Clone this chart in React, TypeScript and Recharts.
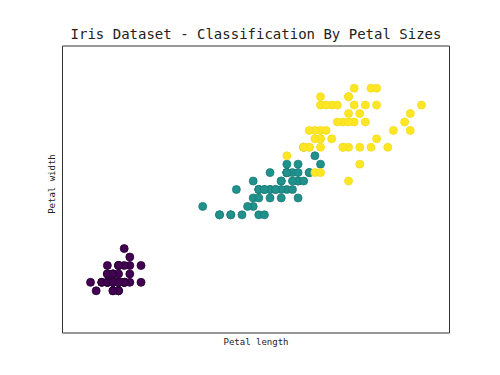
import React from "react";
import { ScatterChart, Scatter, XAxis, YAxis, ReferenceArea } from "recharts";

const setosaLength = [1.4,1.4,1.3,1.5,1.4,1.7,1.4,1.5,1.4,1.5,1.5,1.6,1.4,1.1,1.2,1.5,1.3,1.4,1.7,1.5,1.7,1.5,1.0,1.7,1.9,1.6,1.6,1.5,1.4,1.6,1.6,1.5,1.5,1.4,1.5,1.2,1.3,1.4,1.3,1.5,1.3,1.3,1.3,1.6,1.9,1.4,1.6,1.4,1.5,1.4];
const setosaWidth = [0.2,0.2,0.2,0.2,0.2,0.4,0.3,0.2,0.2,0.1,0.2,0.2,0.1,0.1,0.2,0.4,0.4,0.3,0.3,0.3,0.2,0.4,0.2,0.5,0.2,0.2,0.4,0.2,0.2,0.2,0.2,0.4,0.1,0.2,0.2,0.2,0.2,0.1,0.2,0.2,0.3,0.3,0.2,0.6,0.4,0.3,0.2,0.2,0.2,0.2];

const versicolorLength = [4.7,4.5,4.9,4.0,4.6,4.5,4.7,3.3,4.6,3.9,3.5,4.2,4.0,4.7,3.6,4.4,4.5,4.1,4.5,3.9,4.8,4.0,4.9,4.7,4.3,4.4,4.8,5.0,4.5,3.5,3.8,3.7,3.9,5.1,4.5,4.5,4.7,4.4,4.1,4.0,4.4,4.6,4.0,3.3,4.2,4.2,4.2,4.3,3.0,4.1];
const versicolorWidth = [1.4,1.5,1.5,1.3,1.5,1.3,1.6,1.0,1.3,1.4,1.0,1.5,1.0,1.4,1.3,1.4,1.5,1.0,1.5,1.1,1.8,1.3,1.5,1.2,1.3,1.4,1.4,1.7,1.5,1.0,1.1,1.0,1.2,1.6,1.5,1.6,1.5,1.3,1.3,1.3,1.2,1.4,1.2,1.0,1.3,1.2,1.3,1.3,1.1,1.3];

const virginicaLength = [6.0,5.1,5.9,5.6,5.8,6.6,4.5,6.3,5.8,6.1,5.1,5.3,5.5,5.0,5.1,5.3,5.5,6.7,6.9,5.0,5.7,4.9,6.7,4.9,5.7,6.0,4.8,4.9,5.6,5.8,6.1,6.4,5.6,5.1,5.6,6.1,5.6,5.5,4.8,5.4,5.6,5.1,5.1,5.9,5.7,5.2,5.0,5.2,5.4,5.1];
const virginicaWidth = [2.5,1.9,2.1,1.8,2.2,2.1,1.7,1.8,1.8,2.5,2.0,1.9,2.1,2.0,2.4,2.3,1.8,2.2,2.3,1.5,2.3,2.0,2.0,1.8,2.1,1.8,1.8,1.8,2.1,1.6,1.9,2.0,2.2,1.5,1.4,2.3,2.4,1.8,1.8,2.1,2.4,2.3,1.9,2.3,2.5,2.3,1.9,2.0,2.3,1.8];

const xDomain = [0.5, 7.4];
const yDomain = [-0.4, 3.0];

const zip = (xs: number[], ys: number[]) => xs.map((x, i) => ({ x, y: ys[i] }));
const setosa = zip(setosaLength, setosaWidth);
const versicolor = zip(versicolorLength, versicolorWidth);
const virginica = zip(virginicaLength, virginicaWidth);

const dot = (fill: string, stroke: string) => (props: any) => (
  <circle cx={props.cx} cy={props.cy} r={4} fill={fill} stroke={stroke} strokeWidth={0.8} />
);

const FONT = "'DejaVu Sans Mono', monospace";

export default function App() {
  return (
    <div style={{ position: "absolute", left: 0, top: 0, width: 500, height: 375, background: "#fff" }}>
      <ScatterChart width={500} height={375} margin={{ top: 46, right: 50.5, bottom: 42, left: 62.5 }}>
        <XAxis type="number" dataKey="x" domain={xDomain} hide allowDataOverflow />
        <YAxis type="number" dataKey="y" domain={yDomain} hide allowDataOverflow />
        <ReferenceArea x1={xDomain[0]} x2={xDomain[1]} y1={yDomain[0]} y2={yDomain[1]} fill="none" stroke="#333" strokeWidth={1} ifOverflow="visible" />
        <Scatter data={setosa} isAnimationActive={false} shape={dot("#440154", "#22002e")} />
        <Scatter data={versicolor} isAnimationActive={false} shape={dot("#21918c", "#1a7b77")} />
        <Scatter data={virginica} isAnimationActive={false} shape={dot("#fde725", "#f2dc22")} />
      </ScatterChart>
      <svg width={500} height={375} style={{ position: "absolute", left: 0, top: 0, pointerEvents: "none" }}>
        <text x={256} y={39} textAnchor="middle" fontFamily={FONT} fontSize={14} fill="#222">
          Iris Dataset - Classification By Petal Sizes
        </text>
        <text x={256} y={345} textAnchor="middle" fontFamily={FONT} fontSize={9} fill="#222">
          Petal length
        </text>
        <text x={55} y={184} textAnchor="middle" fontFamily={FONT} fontSize={9} fill="#222" transform="rotate(-90 55 184)">
          Petal width
        </text>
      </svg>
    </div>
  );
}
